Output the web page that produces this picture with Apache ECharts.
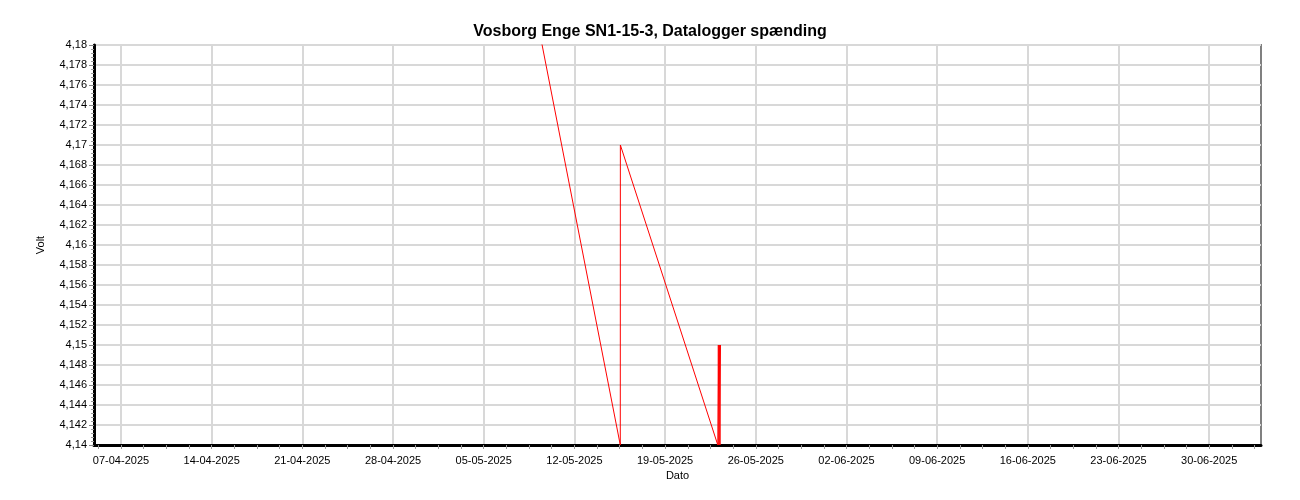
<!DOCTYPE html>
<html><head><meta charset="utf-8">
<script src="https://cdn.jsdelivr.net/npm/echarts@6/dist/echarts.min.js"></script>
<style>html,body{margin:0;padding:0;background:#fff}#c{width:1300px;height:500px}</style>
</head><body><div id="c"></div>
<script>
const chartTitle = 'Vosborg Enge SN1-15-3, Datalogger spænding';
const xAxisName = 'Dato';
const yAxisName = 'Volt';
const times = ['2025-05-08 00:00','2025-05-15 13:00','2025-05-15 13:10','2025-05-23 01:40',
  '2025-05-23 02:40','2025-05-23 03:40','2025-05-23 04:40','2025-05-23 05:40','2025-05-23 06:40'];
const volts = [4.19, 4.14, 4.17, 4.14, 4.15, 4.14, 4.15, 4.14, 4.15];
const xStart = '2025-04-04 22:00';
const xEnd = '2025-07-04 00:00';
const weekTicks = ['2025-04-07','2025-04-14','2025-04-21','2025-04-28','2025-05-05','2025-05-12',
  '2025-05-19','2025-05-26','2025-06-02','2025-06-09','2025-06-16','2025-06-23','2025-06-30'];
const yMin = 4.14, yMax = 4.18, yStep = 0.002;

function ts(s) {
  const m = s.match(/(\d+)-(\d+)-(\d+)(?: (\d+):(\d+))?/);
  return Date.UTC(+m[1], +m[2] - 1, +m[3], +(m[4] || 0), +(m[5] || 0));
}
function fmtDate(v) {
  const d = new Date(v);
  const p = n => String(n).padStart(2, '0');
  return p(d.getUTCDate()) + '-' + p(d.getUTCMonth() + 1) + '-' + d.getUTCFullYear();
}
const DAY = 86400000;
const xMin = ts(xStart), xMax = ts(xEnd);
const weekVals = weekTicks.map(ts);
const smallTicks = [];
for (let t = weekVals[0] - 2 * 1.75 * DAY; t <= xMax; t += 1.75 * DAY) if (t >= xMin) smallTicks.push(t);

const font = 'Liberation Sans, Arial, sans-serif';
const chart = echarts.init(document.getElementById('c'));
chart.setOption({
  animation: false,
  backgroundColor: '#fff',
  title: { text: chartTitle, left: 'center', top: 19,
    textStyle: { fontFamily: font, fontSize: 16, fontWeight: 'bold', color: '#000' } },
  grid: { left: 94, right: 39, top: 45, bottom: 55, show: true, borderColor: '#808080', borderWidth: 2 },
  xAxis: [{
    type: 'value', min: xMin, max: xMax, position: 'bottom',
    axisLine: { show: true, lineStyle: { color: '#000', width: 3 } },
    axisTick: { show: true, customValues: smallTicks, length: 4, lineStyle: { color: '#999', width: 1 } },
    axisLabel: { show: false },
    splitLine: { show: false }
  }, {
    type: 'value', min: xMin, max: xMax, position: 'bottom',
    name: xAxisName, nameLocation: 'middle', nameGap: 23,
    nameTextStyle: { fontFamily: font, fontSize: 11, color: '#000' },
    axisLine: { show: false },
    axisTick: { show: false, customValues: weekVals },
    axisLabel: { show: true, customValues: weekVals, formatter: fmtDate, margin: 10,
      fontFamily: font, fontSize: 11, color: '#000' },
    splitLine: { show: true, lineStyle: { color: '#d8d8d8', width: 2 } }
  }],
  yAxis: {
    type: 'value', min: yMin, max: yMax, interval: yStep,
    name: yAxisName, nameLocation: 'middle', nameGap: 48, nameRotate: 90,
    nameTextStyle: { fontFamily: font, fontSize: 11, color: '#000' },
    axisLine: { show: true, lineStyle: { color: '#000', width: 3 } },
    axisTick: { show: true, length: 5, lineStyle: { color: '#888' } },
    minorTick: { show: true, splitNumber: 5, length: 3, lineStyle: { color: '#999' } },
    axisLabel: { margin: 7, fontFamily: font, fontSize: 11, color: '#000',
      formatter: v => String(+v.toFixed(3)).replace('.', ',') },
    splitLine: { show: true, lineStyle: { color: '#d8d8d8', width: 2 } }
  },
  series: [{
    type: 'line', xAxisIndex: 0, showSymbol: false, symbol: 'none',
    data: times.map((t, i) => [ts(t), volts[i]]),
    lineStyle: { color: '#ff0000', width: 1 },
    clip: true
  }]
});
</script></body></html>
